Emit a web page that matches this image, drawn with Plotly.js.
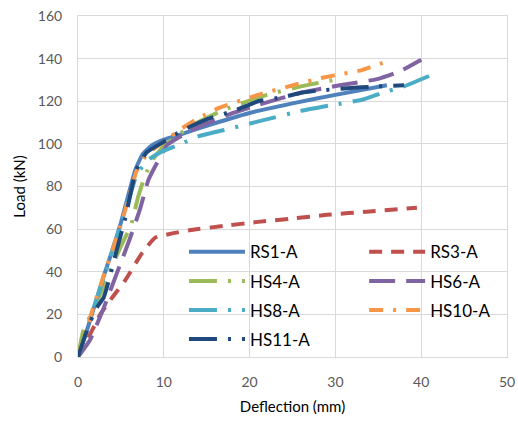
<!DOCTYPE html>
<html>
<head>
<meta charset="utf-8">
<script src="https://cdn.plot.ly/plotly-3.0.1.min.js"></script>
<style>html,body{margin:0;padding:0;background:#fff;}#chart{width:518px;height:422px;}</style>
</head>
<body>
<div id="chart"></div>
<script>
// Data (deflection in mm, load in kN)
const seriesNames = ["RS1-A", "RS3-A", "HS4-A", "HS6-A", "HS8-A", "HS10-A", "HS11-A"];

const rs1X = [0, 1, 2, 3, 4, 5, 6, 6.7, 7.5, 8.5, 10, 12, 15, 20, 25, 30, 36];
const rs1Y = [0, 12, 25, 38, 50, 63, 78, 88, 95, 99, 102, 104.5, 108.5, 114.5, 119, 123, 127.5];

const rs3X = [0, 1.2, 2.6, 4, 5.5, 7.5, 9, 11, 13, 17, 21, 25, 29, 34, 39.5];
const rs3Y = [0, 9, 20, 28, 36, 49, 56, 58, 59.5, 61.5, 63.4, 65, 66.7, 68.3, 70];

const hs4X = [0, 0.6, 2, 3.5, 5, 6.2, 7, 7.8, 8.8, 10, 13, 17, 22, 26, 30.5];
const hs4Y = [0, 12, 24, 38, 52, 62, 75, 85, 93, 99, 108, 116, 123, 127, 130.5];

const hs6X = [0, 1.4, 2.9, 4.5, 6, 7.2, 8.2, 9.2, 10.4, 13, 17.7, 21.6, 26, 30.5, 35, 37.5, 40];
const hs6Y = [0, 8, 22, 39, 55, 69, 83, 91, 99.5, 106, 114, 119, 124, 127.5, 130.5, 134, 139.5];

const hs8X = [0, 1, 2, 3, 4, 5, 6, 6.8, 8, 9.6, 12, 14, 17, 21.5, 26, 30, 33, 35.5, 38, 41];
const hs8Y = [0, 12, 25, 37, 50, 62, 75, 85, 92, 96, 100, 103.5, 106.5, 111, 115.5, 118.5, 120.6, 124, 127, 132];

const hs10X = [0, 1, 2, 3, 4, 5, 6, 6.8, 8, 10, 12, 14, 16.5, 21, 25.5, 28.5, 31, 33, 35.5];
const hs10Y = [0, 13, 26, 38, 50, 62, 76, 87, 95, 101, 107, 112, 117, 123, 128, 131, 133, 134.5, 138];

const hs11X = [0, 1, 2, 3, 3.6, 4.5, 5.5, 6.2, 6.8, 8, 10, 12, 15, 18.5, 21, 24, 26, 28, 31, 35, 38];
const hs11Y = [0, 12, 22, 28, 36, 50, 65, 78, 88, 96, 101, 106, 111.5, 116, 120, 122, 124, 125, 126, 127, 127.5];

const xTicks = [0, 10, 20, 30, 40, 50];
const yTicks = [0, 20, 40, 60, 80, 100, 120, 140, 160];

const FONT = "Lato, 'Liberation Sans', sans-serif";

function mk(name, x, y, color, dash, legend) {
  return {
    type: "scatter", mode: "lines", name: name, x: x, y: y,
    line: {color: color, width: 4, dash: dash, shape: "spline", smoothing: 0.4},
    legend: legend, legendgroup: name
  };
}

const data = [
  mk(seriesNames[0], rs1X, rs1Y, "#4F81BD", "solid", "legend"),
  mk(seriesNames[1], rs3X, rs3Y, "#C0504D", "13px,9px", "legend2"),
  mk(seriesNames[2], hs4X, hs4Y, "#9BBB59", "28px,11px,3px,11px", "legend"),
  mk(seriesNames[3], hs6X, hs6Y, "#8064A2", "26px,11px", "legend2"),
  mk(seriesNames[4], hs8X, hs8Y, "#4BACC6", "28px,11px,3px,11px", "legend"),
  mk(seriesNames[5], hs10X, hs10Y, "#F79646", "14px,10px,3px,10px", "legend2"),
  mk(seriesNames[6], hs11X, hs11Y, "#1F497D", "28px,11px,3px,11px", "legend")
];

const legendCommon = {
  bgcolor: "rgba(0,0,0,0)", borderwidth: 0,
  font: {family: FONT, size: 17, color: "#000"},
  orientation: "v", itemwidth: 56, tracegroupgap: 4,
  xanchor: "left", yanchor: "top"
};

const layout = {
  width: 518, height: 422,
  margin: {l: 78, r: 11, t: 16, b: 65},
  paper_bgcolor: "#fff", plot_bgcolor: "#fff",
  font: {family: FONT, color: "#595959"},
  showlegend: true,
  legend: Object.assign({}, legendCommon, {x: 0.247, y: 0.36}),
  legend2: Object.assign({}, legendCommon, {x: 0.667, y: 0.36}),
  xaxis: {
    range: [0, 50], tickvals: xTicks, ticktext: xTicks.map(String),
    showgrid: true, gridcolor: "#D9D9D9", gridwidth: 1,
    zeroline: false, showline: true, linecolor: "#D9D9D9", linewidth: 1, mirror: true,
    ticks: "", ticklabelstandoff: 12,
    tickfont: {family: FONT, size: 14, color: "#595959"},
    title: {text: "Deflection (mm)", font: {family: FONT, size: 15, color: "#000"}, standoff: 12}
  },
  yaxis: {
    range: [0, 160], tickvals: yTicks, ticktext: yTicks.map(String),
    showgrid: true, gridcolor: "#D9D9D9", gridwidth: 1,
    zeroline: false, showline: true, linecolor: "#D9D9D9", linewidth: 1, mirror: true,
    ticks: "", ticklabelstandoff: 12,
    tickfont: {family: FONT, size: 14, color: "#595959"},
    title: {text: "Load (kN)", font: {family: FONT, size: 15, color: "#000"}, standoff: 8}
  }
};

Plotly.newPlot("chart", data, layout, {displayModeBar: false, staticPlot: true});
</script>
</body>
</html>
